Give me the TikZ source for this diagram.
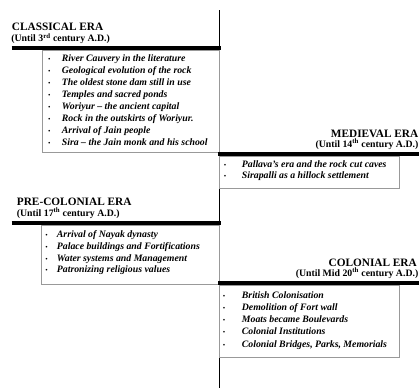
\documentclass[tikz,border=0pt]{standalone}
\usepackage{fontspec}
\setmainfont{Liberation Serif}
\usepackage{tikz}
\usetikzlibrary{calc}

\tikzset{
  titulo/.style={font=\bfseries\fontsize{11.3}{13}\selectfont, inner sep=0pt},
  subtitulo/.style={font=\bfseries\fontsize{9.8}{11}\selectfont, inner sep=0pt},
  punto/.style={font=\bfseries\itshape\fontsize{9.8}{12}\selectfont, inner sep=0pt, anchor=base west},
  bala/.style={font=\fontsize{7}{8}\selectfont, inner sep=0pt, anchor=base},
  barra/.style={line width=3.8pt},
  caja/.style={draw=black!40, line width=0.8pt},
}

\begin{document}
\begin{tikzpicture}[x=1pt,y=-1pt]
  \fill[white] (0,0) rectangle (419,388);
  \useasboundingbox (0,0) rectangle (419,388);

  % Linea del tiempo
  \draw[line width=1.5pt] (219.5,10) -- (219.5,388);

  % Era clasica
  \node[titulo, anchor=base west] (tclas) at (11.7,30.7) {CLASSICAL ERA};
  \node[subtitulo, anchor=base west] (sclas) at (11.2,41.7) {(Until 3\textsuperscript{rd} century A.D.)};
  \draw[barra] (11.7,48) -- (221,48);
  \draw[caja] (42.3,50) rectangle (219.5,152);
  \foreach \t [count=\i] in {River Cauvery in the literature,
      Geological evolution of the rock,
      The oldest stone dam still in use,
      Temples and sacred ponds,
      Woriyur – the ancient capital,
      Rock in the outskirts of Woriyur.,
      Arrival of Jain people,
      Sira – the Jain monk and his school} {
    \node[bala] (bc\i) at (49.3,49.2+12.06*\i) {\textbullet};
    \node[punto] (c\i) at (61.7,49.2+12.06*\i) {\t};
  }

  % Era medieval
  \node[titulo, anchor=base east] (tmed) at (418.5,137) {MEDIEVAL ERA};
  \node[subtitulo, anchor=base east] (smed) at (418.5,147.5) {(Until 14\textsuperscript{th} century A.D.)};
  \draw[barra] (218,154) -- (419,154);
  \draw[caja] (219.5,156) rectangle (399,188.3);
  \foreach \t [count=\i] in {Pallava's era and the rock cut caves,
      Sirapalli as a hillock settlement} {
    \node[bala] (bm\i) at (225,155.5+11.6*\i) {\textbullet};
    \node[punto] (m\i) at (241.7,155.5+11.6*\i) {\t};
  }

  % Era precolonial
  \node[titulo, anchor=base west] (tpre) at (16.7,205.5) {PRE-COLONIAL ERA};
  \node[subtitulo, anchor=base west] (spre) at (16.7,216.5) {(Until 17\textsuperscript{th} century A.D.)};
  \draw[barra] (11.7,223) -- (221,223);
  \draw[caja] (41.7,225) rectangle (219.5,284.3);
  \foreach \t [count=\i] in {Arrival of Nayak dynasty,
      Palace buildings and Fortifications,
      Water systems and Management,
      Patronizing religious values} {
    \node[bala] (bp\i) at (46.7,225.3+11.9*\i) {\textbullet};
    \node[punto] (p\i) at (56.7,225.3+11.9*\i) {\t};
  }

  % Era colonial
  \node[titulo, anchor=base east] (tcol) at (417,266) {COLONIAL ERA};
  \node[subtitulo, anchor=base east] (scol) at (418.5,276) {(Until Mid 20\textsuperscript{th} century A.D.)};
  \draw[barra] (218,283) -- (419,283);
  \draw[caja] (219.5,285) rectangle (399,357.3);
  \foreach \t [count=\i] in {British Colonisation,
      Demolition of Fort wall,
      Moats became Boulevards,
      Colonial Institutions,
      {Colonial Bridges, Parks, Memorials}} {
    \node[bala] (bk\i) at (224,286+12.2*\i) {\textbullet};
    \node[punto] (k\i) at (241.7,286+12.2*\i) {\t};
  }
\end{tikzpicture}
\end{document}
